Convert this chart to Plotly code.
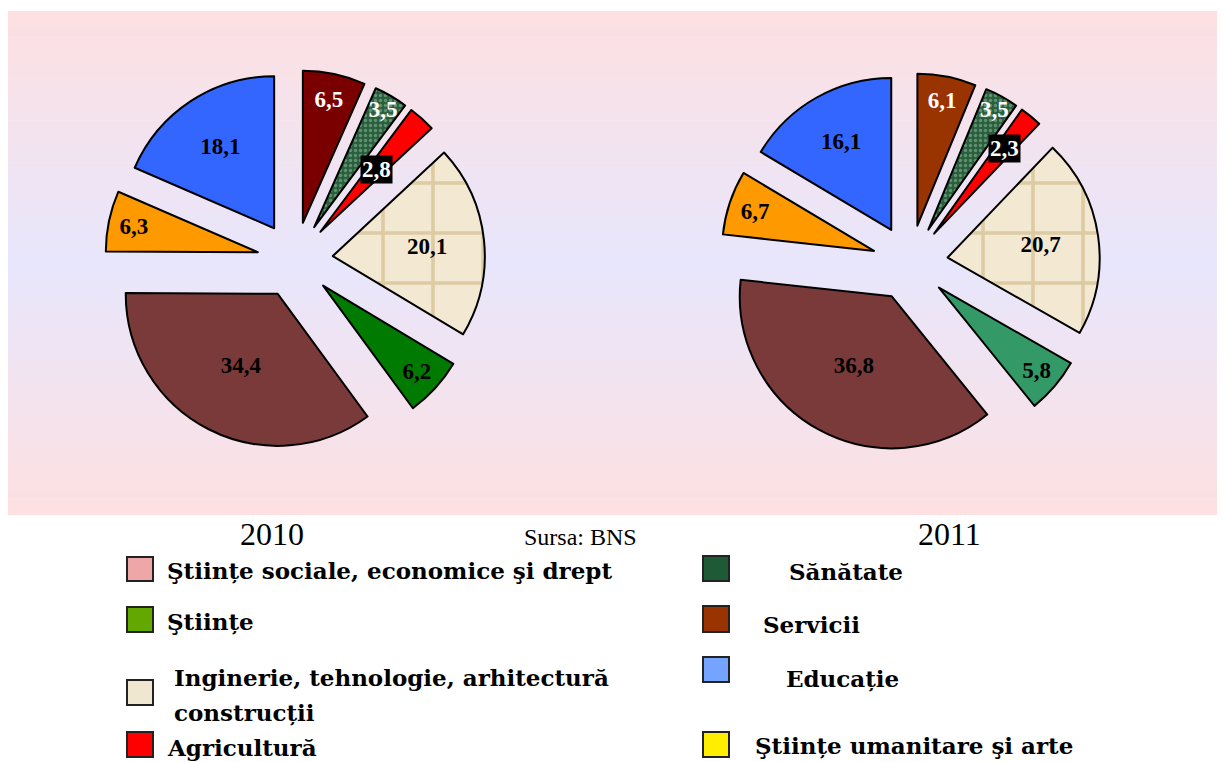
import math
import plotly.graph_objects as go

# ---------------- data ----------------
categories = [
    "Servicii",
    "Sănătate",
    "Agricultură",
    "Inginerie, tehnologie, arhitectură construcții",
    "Ştiințe",
    "Ştiințe sociale, economice şi drept",
    "Ştiințe umanitare şi arte",
    "Educație",
]
values_2010 = [6.5, 3.5, 2.8, 20.1, 6.2, 34.4, 6.3, 18.1]
values_2011 = [6.1, 3.5, 2.3, 20.7, 5.8, 36.8, 6.7, 16.1]
years = ["2010", "2011"]
source_text = "Sursa: BNS"

colors_2010 = ["#7A0000", "#2A5E3C", "#FF0000", "#F3E9D2", "#007A00", "#7A3A3A", "#FF9900", "#3366FF"]
colors_2011 = ["#993300", "#2A5E3C", "#FF0000", "#F3E9D2", "#339966", "#7A3A3A", "#FF9900", "#3366FF"]
text_colors = ["white", "white", "white", "black", "black", "black", "black", "black"]

legend_left = [["Ştiințe sociale, economice şi drept"], ["Ştiințe"],
               ["Inginerie, tehnologie, arhitectură", "construcții"], ["Agricultură"]]
legend_left_colors = ["#EFA6A6", "#62A800", "#F0E7D0", "#FF0000"]
legend_right = [["Sănătate"], ["Servicii"], ["Educație"], ["Ştiințe umanitare şi arte"]]
legend_right_colors = ["#1E5A36", "#993300", "#74A4FF", "#FFEE00"]

# ---------------- layout helpers ----------------
OFF = 8                      # default page margin of the html body
W, H = 1225 - OFF, 762 - OFF
PULL = 0.25
R = 152


def X(px):
    return (px - OFF) / W


def Y(py):
    return 1 - (py - OFF) / H


centers = [(295, 260), (910, 263)]
agri_label_frac = [0.55, 0.73]

fig = go.Figure()

# background gradient (pink -> lavender -> pink)
top, bot = 11, 515
mid = (top + bot) / 2
pink = (253, 224, 225)
lav = (232, 230, 252)
n = 60
step = (bot - top) / n
for i in range(n):
    y0 = top + i * step
    y1 = y0 + step + 0.6
    t = 1 - abs((y0 + step / 2) - mid) / (mid - top)
    c = tuple(round(pink[k] + (lav[k] - pink[k]) * t) for k in range(3))
    fig.add_shape(type="rect", xref="paper", yref="paper",
                  x0=X(8), x1=1, y0=Y(min(y1, bot)), y1=Y(y0),
                  fillcolor="rgb(%d,%d,%d)" % c, line=dict(width=0), layer="below")

for k, (vals, cols) in enumerate([(values_2010, colors_2010), (values_2011, colors_2011)]):
    cx, cy = centers[k]
    half = R * (1 + PULL)
    texttpl = ["<b>%{value:.1f}</b>" if i != 2 else "" for i in range(len(vals))]
    fig.add_trace(go.Pie(
        labels=categories, values=vals, sort=False, direction="clockwise", rotation=0,
        pull=PULL,
        domain=dict(x=[X(cx - half), X(cx + half)], y=[Y(cy + half), Y(cy - half)]),
        marker=dict(
            colors=cols,
            line=dict(color="black", width=2),
            pattern=dict(
                shape=["", ".", "", "+", "", "", "", ""],
                fgcolor=["black", "#5E9270", "black", "#DCCBA3", "black", "black", "black", "black"],
                bgcolor=cols,
                size=[8, 5, 8, 50, 8, 8, 8, 8],
                solidity=[0.3, 0.35, 0.3, 0.14, 0.3, 0.3, 0.3, 0.3],
                fillmode="replace",
            ),
        ),
        texttemplate=texttpl,
        textposition="inside",
        insidetextorientation="horizontal",
        textfont=dict(family="Liberation Serif", size=23, color=text_colors),
        showlegend=False,
        hoverinfo="label+value",
    ))
    # label of the thin "Agricultură" slice in a black box
    total = sum(vals)
    ang = math.radians((sum(vals[:2]) + vals[2] / 2) / total * 360)
    dist = (PULL + agri_label_frac[k]) * R
    ax = cx + dist * math.sin(ang)
    ay = cy - dist * math.cos(ang)
    fig.add_annotation(x=X(ax), y=Y(ay), xref="paper", yref="paper", showarrow=False,
                       xanchor="center", yanchor="middle",
                       text="<b>%s</b>" % ("%.1f" % vals[2]).replace(".", ","),
                       font=dict(family="Liberation Serif", size=23, color="white"),
                       bgcolor="black", borderpad=1)

# year titles & source
fig.add_annotation(x=X(272), y=Y(534), xref="paper", yref="paper", showarrow=False,
                   xanchor="center", yanchor="middle",
                   text=years[0], font=dict(family="Liberation Serif", size=32, color="black"))
fig.add_annotation(x=X(949), y=Y(534), xref="paper", yref="paper", showarrow=False,
                   xanchor="center", yanchor="middle",
                   text=years[1], font=dict(family="Liberation Serif", size=32, color="black"))
fig.add_annotation(x=X(580), y=Y(537), xref="paper", yref="paper", showarrow=False,
                   xanchor="center", yanchor="middle",
                   text=source_text, font=dict(family="Liberation Serif", size=24, color="black"))

# custom legend
LEG_FONT = dict(family="DejaVu Serif", size=23, color="black")
left_sq = [(557, 581), (607, 632), (680, 705), (732, 757)]
left_text_y = [[570], [621], [677, 712], [747]]
left_text_x = [165, 165, 172, 165]
right_sq = [(556, 581), (606, 632), (657, 682), (732, 757)]
right_text_y = [571, 624, 678, 745]
right_text_x = [787, 761, 784, 753]

for i, lines in enumerate(legend_left):
    y0, y1 = left_sq[i]
    fig.add_shape(type="rect", xref="paper", yref="paper", x0=X(127), x1=X(153),
                  y0=Y(y1), y1=Y(y0), fillcolor=legend_left_colors[i],
                  line=dict(color="#222", width=2))
    for j, line in enumerate(lines):
        fig.add_annotation(x=X(left_text_x[i]), y=Y(left_text_y[i][j]), xref="paper", yref="paper",
                           showarrow=False, xanchor="left", yanchor="middle", align="left",
                           text="<b>%s</b>" % line, font=LEG_FONT)
for i, lines in enumerate(legend_right):
    y0, y1 = right_sq[i]
    fig.add_shape(type="rect", xref="paper", yref="paper", x0=X(703), x1=X(729),
                  y0=Y(y1), y1=Y(y0), fillcolor=legend_right_colors[i],
                  line=dict(color="#222", width=2))
    fig.add_annotation(x=X(right_text_x[i]), y=Y(right_text_y[i]), xref="paper", yref="paper",
                       showarrow=False, xanchor="left", yanchor="middle", align="left",
                       text="<b>%s</b>" % lines[0], font=LEG_FONT)

fig.update_layout(
    width=W, height=H, autosize=False,
    margin=dict(l=0, r=0, t=0, b=0),
    paper_bgcolor="white", plot_bgcolor="white",
    separators=",.",
    uniformtext=dict(minsize=23, mode="show"),
)

fig.write_html("out.html")
